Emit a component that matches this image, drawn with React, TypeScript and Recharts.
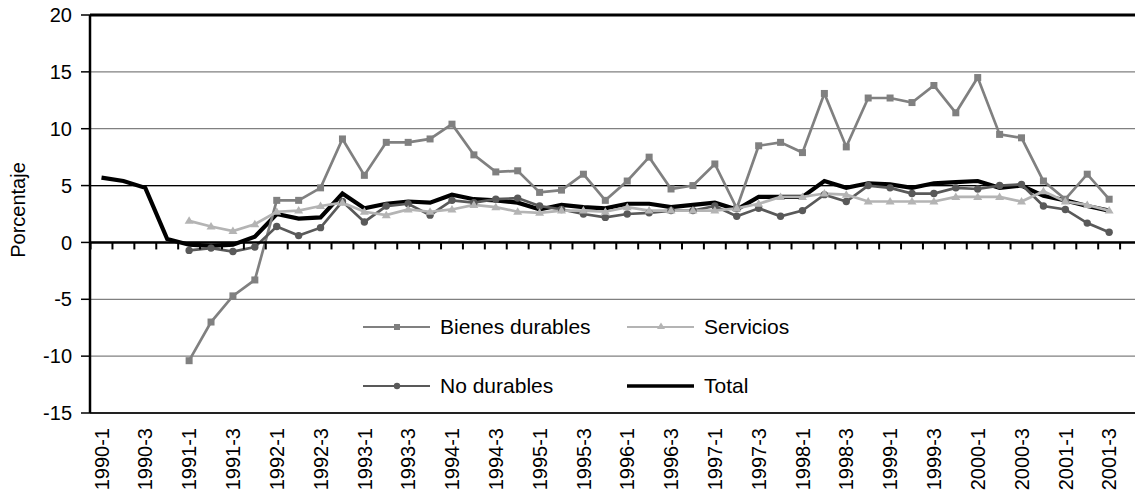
import React from 'react';
import { LineChart, Line, XAxis, YAxis, CartesianGrid, ReferenceLine, Legend } from 'recharts';

const quarters = [
  '1990-1', '1990-2', '1990-3', '1990-4', '1991-1', '1991-2', '1991-3', '1991-4',
  '1992-1', '1992-2', '1992-3', '1992-4', '1993-1', '1993-2', '1993-3', '1993-4',
  '1994-1', '1994-2', '1994-3', '1994-4', '1995-1', '1995-2', '1995-3', '1995-4',
  '1996-1', '1996-2', '1996-3', '1996-4', '1997-1', '1997-2', '1997-3', '1997-4',
  '1998-1', '1998-2', '1998-3', '1998-4', '1999-1', '1999-2', '1999-3', '1999-4',
  '2000-1', '2000-2', '2000-3', '2000-4', '2001-1', '2001-2', '2001-3',
];

const bienesDurables = [
  null, null, null, null, -10.4, -7.0, -4.7, -3.3,
  3.7, 3.7, 4.8, 9.1, 5.9, 8.8, 8.8, 9.1,
  10.4, 7.7, 6.2, 6.3, 4.4, 4.6, 6.0, 3.7,
  5.4, 7.5, 4.7, 5.0, 6.9, 3.0, 8.5, 8.8,
  7.9, 13.1, 8.4, 12.7, 12.7, 12.3, 13.8, 11.4,
  14.5, 9.5, 9.2, 5.4, 3.8, 6.0, 3.8,
];

const servicios = [
  null, null, null, null, 1.9, 1.4, 1.0, 1.6,
  2.7, 2.8, 3.2, 3.5, 2.7, 2.4, 2.9, 2.7,
  2.9, 3.3, 3.1, 2.7, 2.6, 2.8, 2.8, 2.7,
  3.1, 2.8, 2.8, 2.8, 2.8, 3.0, 3.4, 4.0,
  4.0, 4.3, 4.2, 3.6, 3.6, 3.6, 3.6, 4.0,
  4.0, 4.0, 3.6, 4.5, 3.6, 3.3, 2.8,
];

const noDurables = [
  null, null, null, null, -0.7, -0.5, -0.8, -0.4,
  1.4, 0.6, 1.3, 3.6, 1.8, 3.2, 3.4, 2.4,
  3.7, 3.5, 3.8, 3.9, 3.2, 2.9, 2.5, 2.2,
  2.5, 2.6, 2.8, 2.8, 3.2, 2.3, 3.0, 2.3,
  2.8, 4.2, 3.6, 5.0, 4.8, 4.3, 4.3, 4.8,
  4.7, 5.0, 5.1, 3.2, 2.9, 1.7, 0.9,
];

const total = [
  5.7, 5.4, 4.8, 0.3, -0.2, -0.3, -0.2, 0.5,
  2.5, 2.1, 2.2, 4.3, 3.0, 3.4, 3.6, 3.5,
  4.2, 3.8, 3.7, 3.5, 2.9, 3.3, 3.1, 3.0,
  3.4, 3.4, 3.1, 3.3, 3.5, 2.9, 4.0, 4.0,
  4.0, 5.4, 4.8, 5.2, 5.1, 4.8, 5.2, 5.3,
  5.4, 4.8, 5.0, 4.1, 3.7, 3.2, 2.8,
];

const yTicks = [-15, -10, -5, 0, 5, 10, 15, 20];
const xLabelIdx = quarters.map((_, i) => i).filter((i) => i % 2 === 0);
const xDomain: [number, number] = [-0.525, 47.5];

const data = quarters.map((q, i) => ({
  idx: i,
  quarter: q,
  bienes: bienesDurables[i],
  servicios: servicios[i],
  noDurables: noDurables[i],
  total: total[i],
}));

const FONT = '"Liberation Sans", Arial, sans-serif';
const C_BIENES = '#808080';
const C_SERV = '#b4b4b4';
const C_NODUR = '#595959';

const SquareDot = (p: any) => {
  if (p.cy == null || p.value == null) return <g key={`sq-${p.index}`} />;
  return <rect key={`sq-${p.index}`} x={p.cx - 3.5} y={p.cy - 3.5} width={7} height={7} fill={C_BIENES} />;
};

const TriDot = (p: any) => {
  if (p.cy == null || p.value == null) return <g key={`tr-${p.index}`} />;
  const { cx, cy } = p;
  return <path key={`tr-${p.index}`} d={`M${cx},${cy - 4.5} L${cx + 4.5},${cy + 3} L${cx - 4.5},${cy + 3} Z`} fill={C_SERV} />;
};

const CircleDot = (p: any) => {
  if (p.cy == null || p.value == null) return <g key={`ci-${p.index}`} />;
  return <circle key={`ci-${p.index}`} cx={p.cx} cy={p.cy} r={3.7} fill={C_NODUR} />;
};

// x axis drawn at y = 0, with tick marks between quarters
const ZeroAxis = (props: any) => {
  const { x1, x2, y1 } = props;
  const [d0, d1] = xDomain;
  const marks = [];
  for (let k = -0.5; k <= d1; k += 1) {
    const px = x1 + ((k - d0) / (d1 - d0)) * (x2 - x1);
    marks.push(<line key={k} x1={px} x2={px} y1={y1} y2={y1 + 7} stroke="#000" strokeWidth={2} />);
  }
  return (
    <g>
      <line x1={x1} x2={x2} y1={y1} y2={y1} stroke="#000" strokeWidth={2.5} />
      {marks}
    </g>
  );
};

const QuarterTick = (props: any) => {
  const { x, y, payload } = props;
  return (
    <text
      x={x}
      y={y}
      transform={`rotate(-90 ${x} ${y})`}
      textAnchor="end"
      dy="0.36em"
      fontSize={20}
      fontFamily={FONT}
      fill="#000"
    >
      {quarters[payload.value]}
    </text>
  );
};

const legendItems = [
  { name: 'Bienes durables', color: C_BIENES, marker: 'square', col: 0, row: 0 },
  { name: 'Servicios', color: C_SERV, marker: 'triangle', col: 1, row: 0 },
  { name: 'No durables', color: C_NODUR, marker: 'circle', col: 0, row: 1 },
  { name: 'Total', color: '#000', marker: 'none', col: 1, row: 1 },
];

const LegendBox = () => (
  <div style={{ position: 'relative', width: 420, height: 90, fontFamily: FONT }}>
    {legendItems.map((it) => (
      <div
        key={it.name}
        style={{
          position: 'absolute',
          left: it.col * 264,
          top: it.row * 59,
          height: 30,
          display: 'flex',
          alignItems: 'center',
          whiteSpace: 'nowrap',
        }}
      >
        <svg width={67} height={30} style={{ marginRight: 10 }}>
          <line x1={0} x2={67} y1={15} y2={15} stroke={it.color} strokeWidth={it.marker === 'none' ? 3.5 : 2} />
          {it.marker === 'square' && <rect x={31} y={12} width={6} height={6} fill={it.color} />}
          {it.marker === 'triangle' && <path d="M34,10.5 L38,17 L30,17 Z" fill={it.color} />}
          {it.marker === 'circle' && <circle cx={34} cy={15} r={3.2} fill={it.color} />}
        </svg>
        <span style={{ fontSize: 21, color: '#000' }}>{it.name}</span>
      </div>
    ))}
  </div>
);

const App: React.FC = () => {
  return (
    <div
      style={{
        position: 'absolute',
        left: 0,
        top: 0,
        width: 1135,
        height: 495,
        overflow: 'hidden',
        background: '#fff',
        fontFamily: FONT,
      }}
    >
      <LineChart width={1150} height={495} data={data} margin={{ top: 15, right: 8, bottom: 0, left: 0 }}>
        <CartesianGrid vertical={false} stroke="#808080" strokeWidth={1.2} />
        <XAxis
          dataKey="idx"
          type="number"
          domain={xDomain}
          allowDataOverflow
          ticks={xLabelIdx}
          interval={0}
          axisLine={false}
          tickLine={false}
          tickSize={0}
          tickMargin={15}
          height={82}
          tick={<QuarterTick />}
        />
        <YAxis
          type="number"
          domain={[-15, 20]}
          ticks={yTicks}
          interval={0}
          width={90}
          axisLine={{ stroke: '#000', strokeWidth: 2.5 }}
          tickLine={{ stroke: '#000', strokeWidth: 1.5 }}
          tickSize={9}
          tickMargin={9}
          tick={{ fontSize: 20, fill: '#000', fontFamily: FONT }}
          label={{
            content: (lp: any) => {
              const vb = lp.viewBox;
              const cx = vb.x + 18;
              const cy = vb.y + vb.height / 2 - 4;
              return (
                <text
                  x={cx}
                  y={cy}
                  transform={`rotate(-90 ${cx} ${cy})`}
                  textAnchor="middle"
                  dy="0.36em"
                  fontSize={20}
                  fontFamily={FONT}
                  fill="#000"
                >
                  Porcentaje
                </text>
              );
            },
          }}
        />
        <ReferenceLine y={5} stroke="#000" strokeWidth={1.2} />
        <ReferenceLine y={-15} stroke="#222" strokeWidth={2.2} />
        <ReferenceLine y={20} stroke="#000" strokeWidth={3} />
        <Line
          dataKey="total"
          stroke="#000"
          strokeWidth={4.2}
          dot={false}
          activeDot={false}
          isAnimationActive={false}
        />
        <Line
          dataKey="bienes"
          stroke={C_BIENES}
          strokeWidth={2.7}
          dot={SquareDot}
          activeDot={false}
          isAnimationActive={false}
        />
        <Line
          dataKey="noDurables"
          stroke={C_NODUR}
          strokeWidth={2.7}
          dot={CircleDot}
          activeDot={false}
          isAnimationActive={false}
        />
        <Line
          dataKey="servicios"
          stroke={C_SERV}
          strokeWidth={2.7}
          dot={TriDot}
          activeDot={false}
          isAnimationActive={false}
        />
        <ReferenceLine y={0} shape={ZeroAxis} />
        <Legend
          layout="horizontal"
          verticalAlign="middle"
          align="center"
          wrapperStyle={{ left: 363, top: 312, width: 420, height: 90 }}
          content={() => <LegendBox />}
        />
      </LineChart>
    </div>
  );
};

export default App;
